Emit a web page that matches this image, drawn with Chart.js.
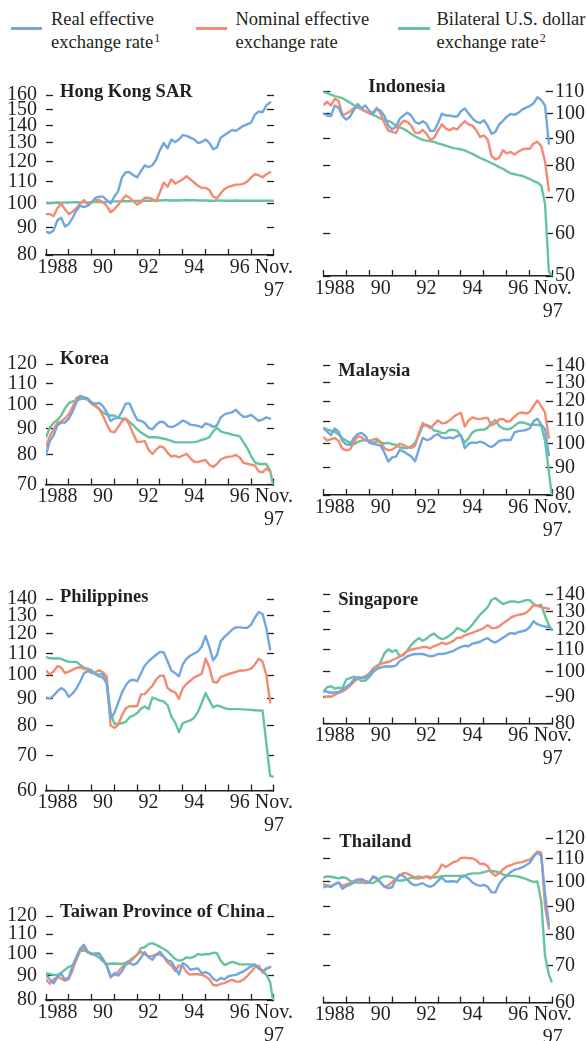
<!DOCTYPE html>
<html>
<head>
<meta charset="utf-8">
<script src="https://cdn.jsdelivr.net/npm/chart.js@4.4.0/dist/chart.umd.min.js"></script>
<style>
  html, body { margin: 0; padding: 0; background: #fff; }
  body { position: relative; width: 587px; height: 1041px; overflow: hidden;
         font-family: "Liberation Serif", "Times New Roman", serif; color: #231f20; }
  canvas { position: absolute; }
  .swatch { position: absolute; height: 3px; }
  .key { position: absolute; font-size: 18.5px; line-height: 23px; white-space: nowrap; }
  .key sup { font-size: 12px; vertical-align: 6px; line-height: 0; margin-left: 1px; }
  .title { position: absolute; font-size: 18.5px; line-height: 20px; font-weight: bold; white-space: nowrap; }
</style>
</head>
<body>

<div class="swatch" style="left:11px;top:27px;width:31px;background:#72a6de"></div>
<div class="key" style="left:51px;top:8px">Real effective<br>exchange rate<sup>1</sup></div>
<div class="swatch" style="left:196px;top:27px;width:31px;background:#f48a72"></div>
<div class="key" style="left:235.5px;top:8px">Nominal effective<br>exchange rate</div>
<div class="swatch" style="left:398px;top:27px;width:32px;background:#66c49c"></div>
<div class="key" style="left:436.5px;top:8px">Bilateral U.S. dollar<br>exchange rate<sup>2</sup></div>

<script>
// Monthly index values, sampled every second month from Jan 1988 to Nov 1997.
// The dollar series carry one extra end-of-period value (Dec 1997 start).
const months = [];
for (let m = 0; m <= 118; m += 2) months.push(m);
const lastMonth = 119.5;

const yearTickMonths = [6, 30, 54, 78, 102, 120];
const yearTickLabels = ['1988', '90', '92', '94', '96', ['Nov.', '97']];

const hkTicks = [80, 90, 100, 110, 120, 130, 140, 150, 160];
const krTicks = [70, 80, 90, 100, 110, 120];
const phTicks = [60, 70, 80, 90, 100, 110, 120, 130, 140];
const twTicks = [80, 90, 100, 110, 120];
const idTicks = [50, 60, 70, 80, 90, 100, 110];
const myTicks = [80, 90, 100, 110, 120, 130, 140];
const sgTicks = [80, 90, 100, 110, 120, 130, 140];
const thTicks = [60, 70, 80, 90, 100, 110, 120];

const hkReal = [88.5, 88, 89, 93, 94, 90.5, 91.5, 94, 97, 99, 98.5, 99, 100.5, 102.5, 103, 103, 101.5, 100, 103, 105.5,
  112, 114.5, 114.5, 113, 112, 115, 118, 117, 118, 121, 126, 130, 127, 132, 130.5, 132, 134.5, 134, 133, 132,
  130, 130.5, 132, 130, 126.5, 127.5, 133, 134.5, 136, 137.5, 137, 138.5, 140, 141, 142, 147, 149, 148.5, 153, 155];
const hkNominal = [95.5, 95.5, 94.7, 98, 100, 97.5, 95.5, 96.5, 98, 100, 101.5, 99.5, 100.5, 101.5, 101.5, 100.5, 99, 96.3, 97.5, 99.5,
  101.5, 103.5, 102.5, 101, 99.5, 100.5, 102.5, 102.5, 102, 101, 105, 109.5, 107.5, 111, 109, 110, 111, 112.5, 111, 109.5,
  108, 107, 107, 106, 103, 102.3, 104.5, 106.5, 107.5, 108, 108.5, 108.5, 109, 110, 112, 113.5, 113, 112, 113.5, 114.5];
const hkDollar = [100.3, 100.2, 100.3, 100.4, 100.3, 100.5, 100.4, 100.5, 100.6, 100.5, 100.6, 100.5, 100.6, 100.6, 100.7, 100.6, 100.7, 100.8, 100.9, 100.9,
  101, 101, 101, 101.1, 101.1, 101.2, 101.2, 101.2, 101.3, 101.3, 101.3, 101.4, 101.4, 101.3, 101.4, 101.3, 101.4, 101.5, 101.4, 101.4,
  101.3, 101.3, 101.3, 101.2, 101.2, 101.3, 101.3, 101.2, 101.2, 101.2, 101.3, 101.2, 101.2, 101.2, 101.2, 101.2, 101.2, 101.2, 101.2, 101.2, 101.2];

const krReal = [80, 85, 87.2, 91.2, 92.3, 92.3, 94, 97, 101, 104, 103.3, 103, 100.8, 100.5, 100.8, 99.4, 96.7, 93, 94, 94.3,
  97, 100.5, 100.6, 96.7, 93.5, 93, 92.2, 90.2, 89.6, 91.4, 92.7, 92.6, 90.9, 90.5, 91, 92, 93.2, 92.5, 91.5, 91.3,
  91, 90.4, 92, 91.5, 90.5, 91.2, 94.5, 95.8, 96.3, 96.7, 97.8, 96, 94.7, 94.9, 95.6, 94.3, 93, 93.6, 94.5, 94];
const krNominal = [83, 86.8, 89.7, 92.2, 92.9, 94, 95.9, 99, 103, 104, 103.5, 102.2, 100.4, 99.3, 98.1, 95.2, 91.6, 88.8, 88.4, 90.6,
  92.9, 94, 91.3, 87.6, 84.6, 84.8, 85, 81.8, 80.2, 81.8, 83, 82.6, 80.7, 79.3, 79.6, 79, 79.7, 80.3, 78.7, 77.5,
  77.4, 77.8, 78.1, 76.5, 75.7, 76.7, 78.3, 78.9, 79.2, 79.4, 79.9, 79, 77.1, 76.8, 76.5, 76.2, 74.2, 73.9, 75.2, 74.2];
const krDollar = [86.5, 90.2, 92.3, 93.4, 95.3, 98.4, 100.7, 101.5, 102, 102.6, 102.8, 102.4, 101.2, 99.7, 98.2, 96.6, 95.7, 95.3, 95.3, 94.3,
  94, 94, 92.5, 91.2, 89.7, 88.3, 87.4, 86.5, 86.5, 86.5, 86.2, 85.9, 85.6, 85.1, 84.5, 84.5, 84.5, 84.5, 84.5, 84.6,
  84.9, 85.5, 85.8, 86.5, 88.8, 90.2, 88.8, 88.3, 88, 87.5, 87.2, 86.8, 84.5, 82.3, 79.5, 77.3, 76.7, 76.7, 76.7, 74.5, 70];

const phReal = [90.6, 90.1, 91.3, 93.1, 94.4, 93.4, 90.8, 92.2, 94.2, 97.2, 100.8, 101.7, 101.6, 100.5, 100.2, 100.4, 96, 82.5, 84.6, 88.4,
  92.5, 95.6, 97.5, 98, 97.3, 100.8, 104.3, 106.2, 107.9, 109.4, 110.8, 110.5, 106.3, 102, 100.9, 99.4, 104.8, 107.5, 109, 110,
  111, 113.5, 118.8, 113.2, 106.7, 109.3, 116.2, 118.4, 120.3, 122.3, 123.5, 123.5, 123.2, 123.2, 125, 129, 132.2, 131, 123, 112];
const phNominal = [102, 100.3, 101.6, 104, 103.3, 100.9, 101.5, 102.3, 103.2, 103.5, 102.7, 102.4, 100.8, 101.3, 102.1, 101.2, 99.3, 80, 79.2, 80.2,
  83.7, 86.3, 87.1, 87.1, 87.1, 91.8, 91.9, 93.7, 95.3, 98, 99.7, 99.7, 94.4, 93.2, 92.6, 90, 94.3, 96.2, 97.5, 99,
  99.7, 100.6, 107.5, 103.5, 97, 96.7, 99.2, 99.7, 100.4, 100.9, 101.4, 102, 102, 102.3, 102.9, 104.8, 107.5, 106.2, 100, 88.5];
const phDollar = [108.3, 107.7, 107.6, 107.7, 107.4, 106.6, 106, 106, 106, 104.6, 103.3, 102.9, 102.1, 100.4, 99.4, 98.8, 96.5, 85, 80.6, 80.6,
  80.8, 81.3, 83, 83.6, 84.5, 86.2, 87, 86, 90.5, 90, 89.3, 89, 87.5, 83.2, 81, 77.7, 80.8, 81.4, 81.8, 82.8,
  85, 88.4, 92.3, 89.4, 86.7, 87.4, 87, 86.4, 86, 86, 86, 86, 85.9, 85.8, 85.7, 85.6, 85.5, 85.5, 74, 64, 63.8];

const twReal = [90.3, 88.4, 86.7, 89.2, 90.9, 88.3, 89.3, 94.4, 98.6, 102.5, 104.4, 100.9, 99.7, 100, 100.1, 97.2, 94.4, 89.2, 91, 90,
  91.9, 95, 95.7, 94.7, 95.7, 98.2, 100.8, 98.3, 97.2, 99.5, 101, 98.7, 96.9, 96.3, 93.3, 90.5, 95.6, 94.6, 92.6, 92.9,
  93.2, 91, 91.5, 90.7, 88.6, 87.8, 89, 88.4, 89.7, 90.1, 90.3, 91.2, 91.8, 93, 94.1, 94.9, 93, 92, 92.9, 93.8];
const twNominal = [88.3, 86.5, 88.4, 89.5, 88.7, 87.8, 88.5, 92.5, 97.5, 101.9, 102.8, 100.7, 100, 100, 100, 97.5, 94.3, 90, 90.2, 91.7,
  93.7, 95.1, 96.2, 97.6, 99.6, 100.9, 99.9, 98.6, 99, 99.6, 99.7, 98.4, 95.9, 94.5, 92, 94.5, 94.2, 91.6, 90.4, 90.7,
  90.6, 90.3, 89.7, 88.4, 86, 85.8, 86.5, 86.8, 87.6, 88.2, 87.5, 87.4, 88.3, 89.9, 91.7, 93.7, 94.5, 91.3, 93.2, 93.8];
const twDollar = [91, 90.7, 90.3, 90.3, 91.2, 92.6, 93.9, 94.5, 97, 101.4, 101.6, 100.9, 100.2, 99.2, 98.2, 96.4, 95.2, 95.3, 95.4, 95.3,
  95.2, 95.7, 96.8, 98.3, 99.6, 102.8, 103.2, 104.8, 105.3, 104.4, 103.4, 102.3, 101.1, 99.3, 97.5, 96.7, 97.1, 98.3, 98, 98.6,
  99.9, 99.5, 99.9, 99.8, 100.5, 100.3, 96.7, 94.7, 95.5, 96.2, 95.7, 95, 95, 95, 95, 94.8, 93.5, 92.1, 90.3, 87.2, 80];

const idReal = [100, 99.2, 99, 103.5, 102.5, 99, 97.5, 98.8, 101.5, 104.2, 102.3, 103.5, 101.2, 100, 102, 101.2, 99, 95, 93.5, 94.5,
  97.8, 99.3, 100.4, 99.2, 96.5, 95.8, 96.8, 95.8, 92.8, 93, 96, 100, 99.2, 99.2, 98.8, 98.8, 101, 102.2, 100, 98,
  96.6, 96.1, 97.2, 95, 91.8, 92.5, 95.5, 97, 98.7, 99.9, 99.5, 100.3, 101.7, 102.6, 103.3, 104.5, 107.2, 106, 103.5, 88];
const idNominal = [103.7, 105.2, 103.5, 106.5, 105.5, 99.5, 100, 101, 102.5, 102.8, 102.2, 101, 100.2, 100.5, 102.5, 100, 96, 93, 92.5, 92,
  95.3, 97, 96.5, 95, 92.2, 92, 93.3, 91.8, 89.3, 90.2, 93, 95.5, 93.9, 93.1, 94, 93.5, 95.3, 96.8, 95.5, 95,
  93.2, 90.5, 91.1, 89.5, 83.5, 82.3, 82.8, 85.5, 84.4, 84.9, 84, 85, 85.8, 86.1, 86.1, 88, 88.7, 87, 81.5, 72];
const idDollar = [109.7, 109.2, 108.5, 107.8, 107.3, 106.8, 105.8, 104.8, 103.6, 102.6, 101.8, 101, 100.2, 99.4, 98.8, 97.8, 97.3, 96.9, 96.2, 95,
  94.3, 93.7, 92.8, 91.7, 90.8, 90, 89.4, 89.1, 88.9, 88.6, 88.1, 87.7, 87.2, 86.8, 86.3, 86.1, 85.8, 85.5, 84.8, 84.2,
  83.5, 82.8, 82.2, 81.6, 80.9, 80.3, 79.6, 79, 78.2, 77.5, 77.2, 76.9, 76.7, 76.2, 75.6, 75, 74.5, 73.6, 68, 51, 50];

const myReal = [106.8, 105.2, 103.6, 106.6, 105.1, 101, 99.5, 99.4, 102.4, 104, 104.6, 103.3, 100.3, 99.8, 99.4, 99, 96, 92.4, 94.1, 94.4,
  97.2, 96.5, 95.5, 94.5, 92.5, 97.5, 102.4, 101.4, 101.8, 103.3, 104, 102.5, 102.2, 102.6, 102.2, 103.2, 103.5, 97.9, 99.8, 100.4,
  100.2, 100.7, 100.2, 99, 98.4, 99.5, 101, 101.4, 101.4, 101.4, 104.8, 105.4, 105.6, 105.9, 106.6, 110, 111.2, 108.5, 106.2, 95];
const myNominal = [102.7, 101.2, 101.8, 102.3, 101.1, 97.7, 97, 97.4, 100.5, 103, 102.7, 101.3, 101, 101.6, 102, 100.6, 97.8, 97, 97.3, 98.4,
  99.9, 99.2, 98.4, 98, 99, 104.5, 109.2, 107.8, 106.8, 108.6, 110.4, 109, 109.2, 110.3, 112, 113.2, 114.1, 107.5, 110.4, 111.8,
  111.2, 111, 111.5, 111.5, 108, 109, 110.8, 111.1, 109.7, 110.3, 112.2, 113.8, 114.2, 113.7, 114.5, 117.5, 120.3, 117.4, 114.2, 102.5];
const myDollar = [106.8, 106.2, 105.6, 105.1, 103.8, 102.2, 101.2, 100, 99.6, 100.6, 101.2, 101.4, 100.9, 100.2, 100.9, 100.3, 100, 100.2, 99.6, 99.4,
  98.3, 98, 98, 98.7, 100.2, 103.5, 107.7, 108.3, 107.5, 105.6, 105.4, 104.5, 104.6, 106, 105.9, 105.6, 103.2, 100.3, 102.2, 104.8,
  105.7, 106, 106, 107, 109.2, 110.5, 107.8, 106.6, 106.2, 106.6, 107.8, 109.2, 109.5, 109, 108.3, 108.3, 108.3, 108, 101, 88.5, 80];

const sgReal = [92.3, 91.8, 91.4, 91.5, 91.7, 92.6, 93.7, 94.8, 96.8, 97.9, 97.4, 97.4, 98.9, 100.6, 101.3, 101.9, 102.4, 102.5, 102.4, 102.8,
  104.9, 105.8, 107, 107.7, 108.1, 108.1, 108.1, 107.6, 107, 107.3, 108.1, 108.1, 108.4, 109, 109.5, 110.6, 111.5, 112, 111.8, 113.1,
  113.5, 114, 115.1, 115.8, 114.3, 113.6, 114.7, 116, 117.3, 118.4, 118, 118.8, 119.3, 119.8, 121.5, 124.6, 123, 122.2, 121.8, 121.5];
const sgNominal = [89.5, 89.9, 89.8, 90.6, 91.3, 91.9, 92.8, 94.2, 95.8, 97.1, 97.6, 98.2, 99.4, 101.5, 102.8, 103.5, 104.1, 104.4, 105.2, 106,
  106.9, 108.1, 109.5, 110.1, 110.6, 110.9, 111.4, 111.4, 110.8, 111.9, 112.6, 113.5, 112.8, 113.4, 114.4, 116, 116, 117.2, 117.9, 118.5,
  119.3, 120, 121, 122.5, 121, 120.9, 121.8, 123.5, 124.8, 126.4, 127.5, 128.1, 128.4, 129.2, 131, 133.5, 133.2, 132.3, 132, 131.5];
const sgDollar = [91.8, 93.6, 94, 93.1, 93.4, 93.2, 96.8, 97.4, 98, 97.2, 96.2, 96.3, 97.8, 99.8, 101.3, 104.5, 108.5, 110.3, 109.1, 110,
  107, 107.6, 109.8, 112.4, 114.3, 115.8, 114.5, 115.5, 117.2, 118.1, 116.3, 115.3, 115.8, 117.1, 118.5, 121, 120.1, 119, 120.5, 122.8,
  125.5, 128.2, 130.2, 132.5, 136.6, 137.8, 136, 134.2, 135, 135.8, 135.7, 135.2, 135.8, 136.5, 136.5, 134.2, 133.2, 133.8, 127.5, 122.5, 120];

const thReal = [97.6, 98.1, 97.7, 98.9, 99.6, 97, 98, 98.7, 99.6, 100.7, 101, 100.2, 99.7, 102.2, 101.5, 99.5, 97.8, 97.2, 97.6, 100.8,
  103, 102.3, 100.7, 99.1, 98.4, 98.8, 99.3, 98.3, 97.8, 98.6, 100.3, 101.7, 100, 100, 100.1, 99.8, 101.8, 102.3, 101.3, 99.6,
  98.7, 98.2, 98.6, 97.8, 95.5, 95.5, 99, 101.1, 102.4, 104, 105.1, 105.5, 106.1, 107.1, 108.2, 111, 113, 111.5, 95, 83.3];
const thNominal = [98.9, 98.3, 98, 98.9, 99.5, 98.2, 98.8, 99.3, 100.3, 100.9, 100.3, 99.2, 99.8, 101.7, 101.1, 99.5, 97.8, 98.4, 99.7, 101.2,
  102.6, 103.7, 103.4, 102.5, 101.7, 102.2, 101.4, 102.1, 101.2, 102.7, 104.4, 107.4, 106.3, 107.3, 108.5, 109, 110.5, 110.6, 110.3, 110.3,
  109.4, 107.7, 107.8, 106.7, 103.8, 102.4, 103.5, 105.2, 106.6, 107.1, 107.8, 108.3, 108.5, 109.2, 109.7, 111.5, 113.4, 113, 90, 82];
const thDollar = [101.7, 102.2, 102, 101.7, 101.3, 101.8, 101.5, 100.3, 99.7, 99.6, 99.6, 99.6, 99.4, 99.3, 100.3, 101.5, 102.2, 102.2, 101.7, 100.7,
  100.3, 100.5, 101, 101.6, 101.4, 101.3, 101.7, 102.2, 101.9, 101.7, 101.9, 102.3, 102.4, 102.4, 102.4, 102.4, 102.4, 102.6, 103.1, 103.5,
  103.5, 103.6, 104, 104.5, 104.6, 104.3, 103.9, 103, 102.5, 102.4, 102.4, 102.1, 101.6, 101.1, 100.4, 99.8, 100, 92, 73, 67.5, 65.5];

const BLUE = '#72a6de';
const RED = '#f48a72';
const GREEN = '#66c49c';
const INK = '#231f20';
const FONT = '"Liberation Serif", "Times New Roman", serif';

// x ticks every half year: year boundaries get a tick mark, mid-years carry the labels
const xTickMonths = [];
for (let m = 0; m <= 120; m += 6) xTickMonths.push(m);

// plot rectangles for the two columns
const panels = [
  { name: 'Hong Kong SAR', side: 'left', top: 81, bottom: 255, min: 80, max: 160, ticks: hkTicks,
    series: [hkReal, hkNominal, hkDollar], titleX: 60, titleTop: 81 },
  { name: 'Korea', side: 'left', top: 350.7, bottom: 484.5, min: 70, max: 120, ticks: krTicks,
    series: [krReal, krNominal, krDollar], titleX: 60, titleTop: 348 },
  { name: 'Philippines', side: 'left', top: 585, bottom: 790.5, min: 60, max: 140, ticks: phTicks,
    series: [phReal, phNominal, phDollar], titleX: 60, titleTop: 585.5 },
  { name: 'Taiwan Province of China', side: 'left', top: 902, bottom: 1000, min: 80, max: 120, ticks: twTicks,
    series: [twReal, twNominal, twDollar], titleX: 60, titleTop: 901 },
  { name: 'Indonesia', side: 'right', top: 84.3, bottom: 276, min: 50, max: 110, ticks: idTicks,
    series: [idReal, idNominal, idDollar], titleX: 368.3, titleTop: 75.5 },
  { name: 'Malaysia', side: 'right', top: 358.3, bottom: 495, min: 80, max: 140, ticks: myTicks,
    series: [myReal, myNominal, myDollar], titleX: 338.3, titleTop: 360 },
  { name: 'Singapore', side: 'right', top: 587.3, bottom: 723.5, min: 80, max: 140, ticks: sgTicks,
    series: [sgReal, sgNominal, sgDollar], titleX: 338.3, titleTop: 589 },
  { name: 'Thailand', side: 'right', top: 831.7, bottom: 1002.5, min: 60, max: 120, ticks: thTicks,
    series: [thReal, thNominal, thDollar], titleX: 339.3, titleTop: 831 }
];

function toPoints(values) {
  const pts = [];
  values.forEach((v, i) => {
    if (v === null) return;
    pts.push({ x: i < months.length ? months[i] : lastMonth, y: v });
  });
  return pts;
}

function drawPanel(p) {
  const isLeft = p.side === 'left';
  const canvasLeft = isLeft ? 0 : 298;
  const width = isLeft ? 300 : 289;
  const plotLeft = isLeft ? 46 : 323.3;
  const plotRight = isLeft ? 276 : 552.7;
  const canvasTop = Math.floor(p.top) - 14;
  const xHeight = 52;
  const height = Math.ceil(p.bottom + xHeight - canvasTop);

  const canvas = document.createElement('canvas');
  canvas.width = width;
  canvas.height = height;
  canvas.style.left = canvasLeft + 'px';
  canvas.style.top = canvasTop + 'px';
  document.body.appendChild(canvas);

  const title = document.createElement('div');
  title.className = 'title';
  title.textContent = p.name;
  title.style.left = p.titleX + 'px';
  title.style.top = p.titleTop + 'px';
  document.body.appendChild(title);

  const yAxis = (position, showLabels, w) => ({
    type: 'logarithmic',
    position: position,
    min: p.min,
    max: p.max,
    afterBuildTicks: s => { s.ticks = p.ticks.map(v => ({ value: v })); },
    afterFit: s => { s.width = w; },
    border: { display: false },
    grid: { drawOnChartArea: false, drawTicks: true, tickLength: -7, tickWidth: 1.3, tickColor: INK },
    ticks: {
      display: showLabels,
      autoSkip: false,
      color: INK,
      font: { family: FONT, size: 20 },
      padding: position === 'left' ? 16 : 9.3,
      callback: v => String(v)
    }
  });

  const line = (data, color) => ({
    data: toPoints(data),
    borderColor: color,
    borderWidth: 2.4,
    pointRadius: 0,
    tension: 0,
    fill: false,
    borderJoinStyle: 'round',
    borderCapStyle: 'round',
    yAxisID: 'yl'
  });

  new Chart(canvas, {
    type: 'line',
    data: {
      datasets: [
        line(p.series[0], BLUE),
        line(p.series[1], RED),
        line(p.series[2], GREEN)
      ]
    },
    options: {
      responsive: false,
      animation: false,
      devicePixelRatio: 1,
      layout: { padding: { top: p.top - canvasTop, left: 0, right: 0, bottom: 0 } },
      plugins: { legend: { display: false }, tooltip: { enabled: false } },
      scales: {
        x: {
          type: 'linear',
          min: 0,
          max: 120,
          afterBuildTicks: s => { s.ticks = xTickMonths.map(v => ({ value: v })); },
          afterFit: s => { s.height = canvasTop + height - p.bottom; },
          border: { display: true, color: INK, width: 1.5 },
          grid: {
            drawOnChartArea: false,
            drawTicks: true,
            tickLength: -6,
            tickWidth: 1.3,
            tickColor: ctx => (ctx.tick && ctx.tick.value % 12 === 0) ? INK : 'rgba(0,0,0,0)'
          },
          ticks: {
            autoSkip: false,
            maxRotation: 0,
            minRotation: 0,
            padding: 7,
            color: INK,
            font: { family: FONT, size: 20, lineHeight: 1.15 },
            callback: v => {
              const k = yearTickMonths.indexOf(v);
              return k < 0 ? '' : yearTickLabels[k];
            }
          }
        },
        yl: yAxis('left', isLeft, plotLeft - canvasLeft),
        yr: yAxis('right', !isLeft, canvasLeft + width - plotRight)
      }
    }
  });
}

panels.forEach(drawPanel);
</script>
</body>
</html>
